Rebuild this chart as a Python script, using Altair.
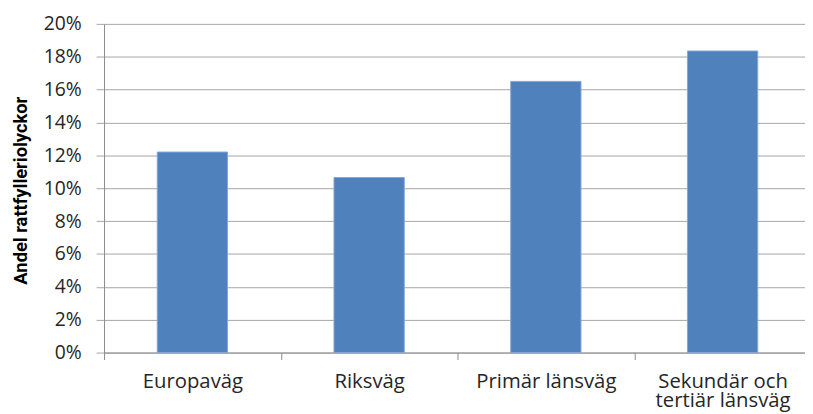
import altair as alt
import pandas as pd

categories = ["Europaväg", "Riksväg", "Primär länsväg", "Sekundär och tertiär länsväg"]
shares = [0.122, 0.1065, 0.165, 0.1835]
y_ticks = [0.0, 0.02, 0.04, 0.06, 0.08, 0.10, 0.12, 0.14, 0.16, 0.18, 0.20]

df = pd.DataFrame({"Vägtyp": categories, "Andel": shares})

label_expr = (
    "datum.label == 'Sekundär och tertiär länsväg' ? "
    "['Sekundär och', 'tertiär länsväg'] : datum.label"
)

chart = (
    alt.Chart(df)
    .mark_bar(color="#4f81bd", size=71, stroke="#86a7d3", strokeWidth=1)
    .encode(
        x=alt.X(
            "Vägtyp:N",
            sort=categories,
            title=None,
            scale=alt.Scale(paddingInner=0, paddingOuter=0),
            axis=alt.Axis(
                tickBand="extent",
                labelAngle=0,
                labelExpr=label_expr,
                domainColor="#8c8c8c",
                tickColor="#8c8c8c",
                tickSize=7,
                labelPadding=12,
                labelFont="Open Sans",
                labelFontSize=20.5,
                labelLineHeight=19.5,
                labelColor="#262626",
                labelLimit=0,
                grid=False,
            ),
        ),
        y=alt.Y(
            "Andel:Q",
            scale=alt.Scale(domain=[0, 0.2]),
            axis=alt.Axis(
                format=".0%",
                values=y_ticks,
                title="Andel rattfylleriolyckor",
                titleFont="Roboto",
                titleFontWeight="bold",
                titleFontSize=18.5,
                titleColor="#000000",
                titleAngle=-90,
                titleX=-84,
                titleY=168,
                titleAlign="center",
                titleBaseline="middle",
                grid=True,
                gridColor="#a6a6a6",
                domainColor="#8c8c8c",
                tickColor="#a6a6a6",
                tickSize=8,
                labelPadding=15,
                labelFont="Open Sans",
                labelFontSize=19.5,
                labelColor="#262626",
            ),
        ),
    )
    .properties(
        width=714,
        height=332,
        autosize=alt.AutoSizeParams(type="none"),
        padding={"left": 97, "top": 14, "right": -6, "bottom": 58},
    )
    .configure_view(stroke=None)
)

chart.save("out.html", embed_options={"renderer": "svg", "actions": False})
